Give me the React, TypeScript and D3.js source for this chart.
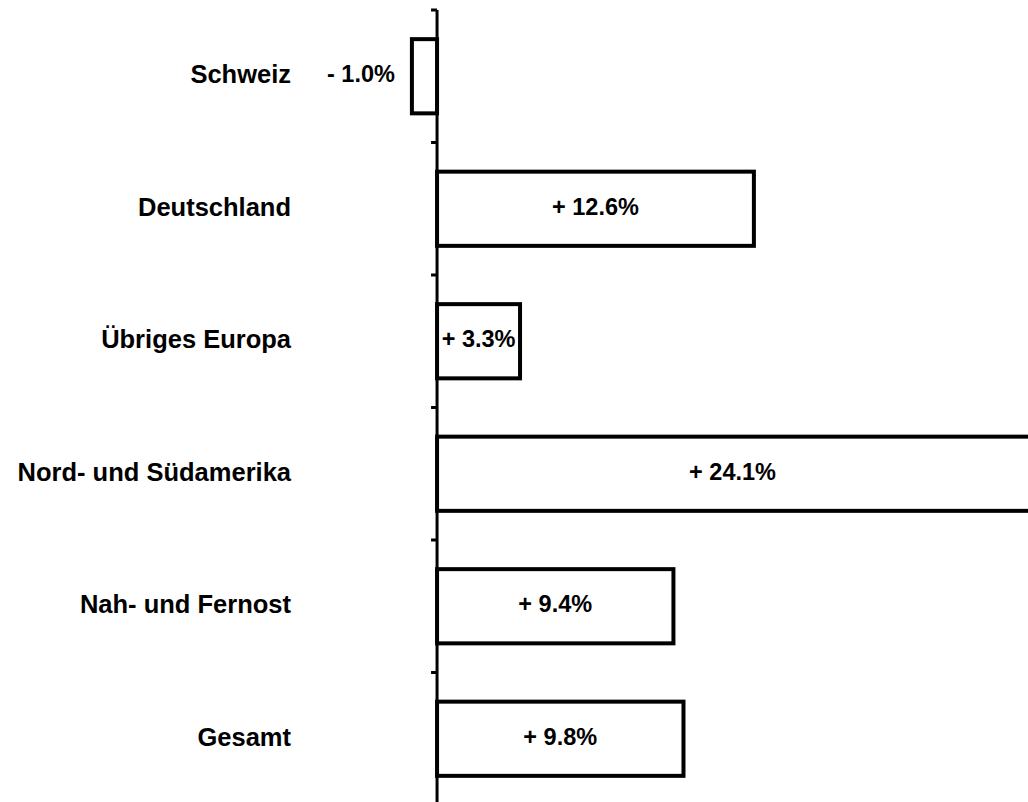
import React from "react";
import * as d3 from "d3";

const categories = [
  "Schweiz",
  "Deutschland",
  "Übriges Europa",
  "Nord- und Südamerika",
  "Nah- und Fernost",
  "Gesamt",
];
const values = [-1.0, 12.6, 3.3, 24.1, 9.4, 9.8];
const valueLabels = ["- 1.0%", "+ 12.6%", "+ 3.3%", "+ 24.1%", "+ 9.4%", "+ 9.8%"];

const W = 1028;
const H = 802;
const FONT = "'Liberation Sans', Arial, Helvetica, sans-serif";

export default function App() {
  const x = d3.scaleLinear().domain([-17.38, 23.5]).range([0, W]);
  const y = d3
    .scaleBand<string>()
    .domain(categories)
    .range([10, 805])
    .paddingInner(0.44)
    .paddingOuter(0.22);
  const x0 = x(0);
  const step = y.step();
  const tickYs = d3.range(categories.length + 1).map((i) => 10 + i * step);

  return (
    <svg
      width={W}
      height={H}
      style={{ position: "absolute", left: 0, top: 0, background: "#fff" }}
    >
      {categories.map((c, i) => {
        const v = values[i];
        const xs = Math.min(x(0), x(v));
        const xe = Math.max(x(0), x(v));
        const by = y(c)!;
        const bh = y.bandwidth();
        const cy = by + bh / 2;
        const visEnd = Math.min(xe, W);
        return (
          <g key={c}>
            <rect
              x={xs}
              y={by}
              width={xe - xs}
              height={bh}
              fill="#fff"
              stroke="#000"
              strokeWidth={4}
            />
            <text
              x={291}
              y={cy + 7}
              textAnchor="end"
              fontFamily={FONT}
              fontWeight="bold"
              fontSize={25.5}
              fill="#000"
            >
              {c}
            </text>
            {v < 0 ? (
              <text
                x={xs - 17}
                y={cy + 6}
                textAnchor="end"
                fontFamily={FONT}
                fontWeight="bold"
                fontSize={23.5}
                fill="#000"
              >
                {valueLabels[i]}
              </text>
            ) : (
              <text
                x={(xs + visEnd) / 2}
                y={cy + 6}
                textAnchor="middle"
                fontFamily={FONT}
                fontWeight="bold"
                fontSize={23.5}
                fill="#000"
              >
                {valueLabels[i]}
              </text>
            )}
          </g>
        );
      })}
      <line x1={x0} x2={x0} y1={10} y2={H + 10} stroke="#000" strokeWidth={3} />
      {tickYs.map((ty, i) => (
        <line key={i} x1={x0 - 6} x2={x0} y1={ty} y2={ty} stroke="#000" strokeWidth={3} />
      ))}
    </svg>
  );
}
